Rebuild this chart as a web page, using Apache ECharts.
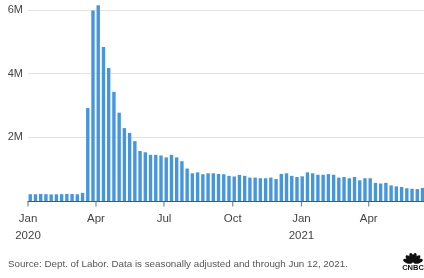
<!DOCTYPE html>
<html>
<head>
<meta charset="utf-8">
<style>
  html, body { margin: 0; padding: 0; background: #fff; }
  #main { width: 424px; height: 278px; }
</style>
<script src="https://cdn.jsdelivr.net/npm/echarts@6/dist/echarts.min.js"></script>
</head>
<body>
<div id="main"></div>
<script>
// weekly initial jobless claims, thousands, week ending Saturday
var firstWeek = [2020, 0, 4];
var claims = [
    213, 212, 222, 215, 207, 210, 214, 222, 219, 211, 256,
    2920, 5985, 6149, 4840, 4180, 3430, 2775, 2290, 2140, 1880,
    1570, 1530, 1450, 1450, 1430, 1370, 1450, 1370, 1250, 1020,
    870, 900, 840, 870, 870, 850, 840, 790, 770, 820,
    790, 735, 735, 715, 715, 735, 690, 850, 870, 790,
    755, 775, 900, 870, 825, 825, 845, 825, 735, 755,
    715, 755, 650, 715, 715, 570, 550, 570, 490, 460,
    440, 400, 385, 375, 410
];
var tickDates = [[2020, 0, 1], [2020, 3, 1], [2020, 6, 1], [2020, 9, 1], [2021, 0, 1], [2021, 3, 1]];
var tickLabels = ['Jan\n2020', 'Apr', 'Jul', 'Oct', 'Jan\n2021', 'Apr'];
var yTicks = [0, 2000, 4000, 6000];

var tickTimes = tickDates.map(function (d) { return +new Date(d[0], d[1], d[2]); });
var barData = claims.map(function (v, i) {
    return [+new Date(firstWeek[0], firstWeek[1], firstWeek[2] + 7 * i), v];
});

var myChart = echarts.init(document.getElementById('main'));
var option = {
    backgroundColor: '#fff',
    animation: false,
    grid: { left: 28, right: 0, top: 10, bottom: 77, containLabel: false },
    xAxis: {
        type: 'value',
        min: +new Date(2020, 0, 1),
        max: +new Date(2021, 5, 14),
        axisLine: { lineStyle: { color: '#555', width: 1 } },
        axisTick: { show: false },
        axisLabel: {
            customValues: tickTimes,
            formatter: function (v) {
                var i = tickTimes.indexOf(v);
                return i >= 0 ? tickLabels[i] : '';
            },
            color: '#444',
            fontFamily: 'Liberation Sans',
            fontSize: 11.5,
            lineHeight: 17,
            margin: 9,
            hideOverlap: false
        },
        splitLine: { show: false }
    },
    yAxis: {
        type: 'value',
        min: yTicks[0],
        max: yTicks[yTicks.length - 1],
        interval: 2000,
        axisLine: { show: false },
        axisTick: { show: false },
        axisLabel: {
            showMinLabel: false,
            formatter: function (v) { return v / 1000 + 'M'; },
            color: '#444',
            fontFamily: 'Liberation Sans',
            fontSize: 11,
            margin: 5
        },
        splitLine: { lineStyle: { color: '#e3e3e3', width: 1 } }
    },
    series: [{
        type: 'bar',
        data: barData,
        barWidth: 3.4,
        clip: false,
        itemStyle: { color: '#4596dc' }
    }, {
        // quarter tick marks below the axis line
        type: 'scatter',
        data: tickTimes.map(function (t) { return [t, 0]; }),
        symbol: 'rect',
        symbolSize: [1.2, 5],
        symbolOffset: [0, 3],
        clip: false,
        silent: true,
        z: 5,
        itemStyle: { color: '#666' }
    }],
    graphic: [{
        type: 'text',
        left: 8,
        top: 259,
        style: {
            text: 'Source: Dept. of Labor. Data is seasonally adjusted and through Jun 12, 2021.',
            fill: '#555',
            font: '9.8px "Liberation Sans"'
        }
    }, {
        type: 'group',
        x: 413,
        y: 263,
        children: [-72, -43, -14, 14, 43, 72].map(function (a) {
            return {
                type: 'ellipse',
                shape: { cx: 0, cy: -5.5, rx: 2.2, ry: 4.8 },
                rotation: a * Math.PI / 180,
                style: { fill: '#111' }
            };
        }).concat([{
            type: 'text',
            x: 0,
            y: 0.5,
            style: {
                text: 'CNBC',
                fill: '#111',
                font: 'bold 7.5px "Liberation Sans"',
                align: 'center',
                verticalAlign: 'top'
            }
        }])
    }]
};
myChart.setOption(option);
</script>
</body>
</html>
